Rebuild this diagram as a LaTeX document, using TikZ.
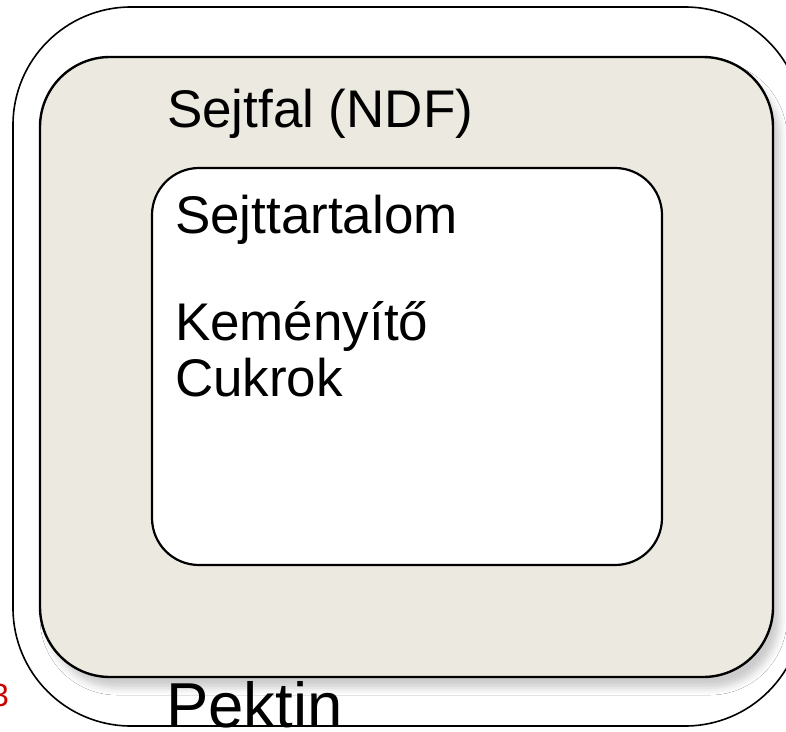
\documentclass[tikz,border=0pt]{standalone}
\usepackage{fontspec}
\setmainfont{Liberation Sans}
\usetikzlibrary{shadows.blur}
\definecolor{wallfill}{RGB}{236,234,224}
\definecolor{labelred}{RGB}{204,0,0}
\tikzset{
  layer/.style={draw=black, rounded corners=#1, inner sep=0pt, outer sep=0pt, anchor=center},
  lbl/.style={anchor=base west, inner sep=0pt, outer sep=0pt, font=\fontsize{53}{57}\selectfont},
}
\begin{document}
\begin{tikzpicture}[x=1pt,y=-1pt]
  \useasboundingbox (0,0) rectangle (786,731);
  \clip (0,0) rectangle (786,731);
  % pectin envelope
  \node[layer=118pt, line width=1.6pt, fill=white, minimum width=790pt, minimum height=719pt]
    (pektinbox) at (408,366.5) {};
  % cell wall
  \node[layer=70pt, line width=2.4pt, fill=wallfill, minimum width=733pt, minimum height=620pt,
        blur shadow={shadow xshift=7pt, shadow yshift=-11pt, shadow blur radius=7pt, shadow opacity=20}]
    (fal) at (406.5,367) {};
  % cell content
  \node[layer=47pt, line width=2.2pt, fill=white, minimum width=510pt, minimum height=397pt]
    (tartalom) at (407,366.5) {};
  % labels
  \node[lbl] (falcim) at (167,127) {Sejtfal (NDF)};
  \node[lbl] (tartcim) at (175,233) {Sejttartalom};
  \node[lbl] (kemeny) at (175,340) {Keményítő};
  \node[lbl] (cukor) at (175,396) {Cukrok};
  \node[lbl, font=\fontsize{63.5}{67}\selectfont] (pektin) at (166,727) {Pektin};
  \node[anchor=base west, inner sep=0pt, text=labelred, font=\fontsize{32}{36}\selectfont]
    (szam) at (-9,706) {3};
\end{tikzpicture}
\end{document}
